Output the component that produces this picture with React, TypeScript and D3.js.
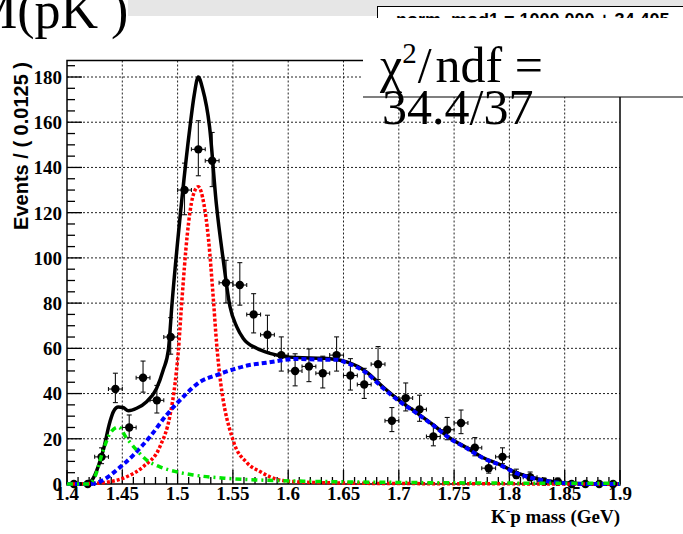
import React from "react";
import * as d3 from "d3";

const W = 683;
const H = 534;

// Bin centers (GeV) and event counts
const MASS = [
  1.40625, 1.41875, 1.43125, 1.44375, 1.45625, 1.46875, 1.48125, 1.49375,
  1.50625, 1.51875, 1.53125, 1.54375, 1.55625, 1.56875, 1.58125, 1.59375,
  1.60625, 1.61875, 1.63125, 1.64375, 1.65625, 1.66875, 1.68125, 1.69375,
  1.70625, 1.71875, 1.73125, 1.74375, 1.75625, 1.76875, 1.78125, 1.79375,
  1.80625, 1.81875, 1.83125, 1.84375, 1.85625, 1.86875, 1.88125, 1.89375,
];
const COUNTS = [
  0, 0, 12, 42, 25, 47, 37, 65, 130, 148, 143, 89, 88, 75, 66, 57, 50, 52, 49,
  57, 48, 44, 53, 28, 38, 33, 21, 24, 27, 16, 7, 12, 4, 3, 1, 1, 0, 0, 0, 0,
];
const BIN_HALF = 0.00625;

// Fit curves
const TOTAL_X = [
  1.4, 1.418, 1.4215, 1.4328, 1.4389, 1.442, 1.4464, 1.4505, 1.4555, 1.463,
  1.472, 1.481, 1.487, 1.4916, 1.495, 1.5038, 1.5112, 1.515, 1.5187, 1.5225,
  1.5289, 1.535, 1.5413, 1.5474, 1.5534, 1.5594, 1.5715, 1.5835, 1.6077,
  1.6318, 1.6528, 1.671, 1.686, 1.701, 1.716, 1.731, 1.746, 1.7614, 1.7764,
  1.7915, 1.8066, 1.8216, 1.8367, 1.852, 1.87, 1.9,
];
const TOTAL_Y = [
  0, 0, 1, 15, 27.6, 32, 34, 33.8, 32.4, 33.5, 36.4, 42.3, 50.4, 59, 80,
  125.6, 158, 172, 180, 175, 158, 124, 99, 78.4, 69.6, 64.4, 60, 57.8, 55.9,
  55.6, 54, 49.5, 42.8, 36.8, 31.6, 26.2, 20.4, 16, 11.6, 8.6, 4.9, 2.7, 1.2,
  0.4, 0.1, 0,
];

const SIG_X = [
  1.4, 1.425, 1.439, 1.454, 1.469, 1.484, 1.493, 1.4977, 1.5007, 1.5037,
  1.5087, 1.5137, 1.5187, 1.5237, 1.528, 1.5323, 1.5353, 1.5504, 1.5625,
  1.5745, 1.5835, 1.5953, 1.62, 1.7, 1.9,
];
const SIG_Y = [
  0, 0.3, 1, 3.2, 7.7, 16.5, 30, 44.5, 59, 80, 110, 127, 131.5, 124, 108, 82,
  62, 19, 9.5, 5.5, 3.2, 1.5, 0.7, 0.2, 0,
];

const BKG_X = [
  1.4, 1.42, 1.4328, 1.445, 1.46, 1.475, 1.49, 1.5052, 1.5203, 1.5353, 1.5504,
  1.564, 1.58, 1.6077, 1.6318, 1.6438, 1.6529, 1.671, 1.686, 1.701, 1.716,
  1.731, 1.746, 1.7614, 1.7764, 1.7915, 1.8066, 1.8216, 1.8367, 1.852, 1.87,
  1.9,
];
const BKG_Y = [
  0, 0, 1.8, 6.2, 12.8, 20.9, 30.5, 38.6, 45.2, 48.2, 50.7, 52.5, 53.6, 55.3,
  55, 55, 53.6, 49, 42.3, 36.4, 31.3, 26, 20.2, 15.8, 11.4, 8.4, 4.7, 2.5, 1,
  0.3, 0, 0,
];

const THR_X = [
  1.4, 1.42, 1.425, 1.4328, 1.4389, 1.4464, 1.454, 1.463, 1.472, 1.484, 1.499,
  1.514, 1.544, 1.5715, 1.62, 1.7, 1.8, 1.9,
];
const THR_Y = [
  0, 0, 3, 15, 22.4, 25.2, 20.2, 15, 10.6, 7.6, 5.4, 4, 2.5, 1.8, 1.2, 0.7,
  0.4, 0.3,
];

const X_TICKS = [1.4, 1.45, 1.5, 1.55, 1.6, 1.65, 1.7, 1.75, 1.8, 1.85, 1.9];
const X_TICK_LABELS = ["1.4", "1.45", "1.5", "1.55", "1.6", "1.65", "1.7", "1.75", "1.8", "1.85", "1.9"];
const Y_TICKS = [0, 20, 40, 60, 80, 100, 120, 140, 160, 180];
const Y_MAX = 187.3;

export default function App() {
  const L = 67, R = 620, B = 484, T = 60.5;
  const x = d3.scaleLinear().domain([1.4, 1.9]).range([L, R]);
  const y = d3.scaleLinear().domain([0, Y_MAX]).range([B, T]);

  const xMinor = d3.range(0, 51).filter((i) => i % 5 !== 0).map((i) => 1.4 + i * 0.01);
  const yMinor = d3.range(0, 38).filter((i) => i % 4 !== 0).map((i) => i * 5);

  const mk = (xs: number[], ys: number[]) =>
    d3
      .line<number>()
      .x((_, i) => x(xs[i]))
      .y((_, i) => y(ys[i]))
      .curve(d3.curveMonotoneX)(xs) || "";

  const serif = "'Liberation Serif', 'Times New Roman', serif";
  const sans = "'Liberation Sans', Arial, sans-serif";

  return (
    <svg
      width={W}
      height={H}
      style={{ position: "absolute", left: 0, top: 0, background: "#fff" }}
    >
      {/* title, cut off at top-left */}
      <text x={-29} y={28} fontFamily={serif} fontSize={52} fill="#000">
        M(pK )
      </text>
      {/* gray header band */}
      <rect x={128} y={0} width={W - 128} height={16} fill="#e6e6e6" />
      {/* stats box (mostly hidden) */}
      <rect x={377.5} y={6.5} width={330} height={40} fill="#fff" stroke="#000" strokeWidth={1} />
      <text x={396} y={26} fontFamily={sans} fontWeight="bold" fontSize={18} fill="#000">
        norm_mod1 = 1000.000 ± 34.405
      </text>

      {/* gridlines */}
      {X_TICKS.slice(1, -1).map((t) => (
        <line key={"gx" + t} x1={x(t)} x2={x(t)} y1={T} y2={B} stroke="#222" strokeWidth={1} strokeDasharray="2 2" />
      ))}
      {Y_TICKS.slice(1).map((t) => (
        <line key={"gy" + t} x1={L} x2={R} y1={y(t)} y2={y(t)} stroke="#222" strokeWidth={1} strokeDasharray="2 2" />
      ))}

      {/* frame */}
      <rect x={L} y={T} width={R - L} height={B - T} fill="none" stroke="#000" strokeWidth={1.5} />

      {/* x ticks */}
      {X_TICKS.map((t) => (
        <line key={"xt" + t} x1={x(t)} x2={x(t)} y1={B} y2={B - 14} stroke="#000" strokeWidth={1.3} />
      ))}
      {xMinor.map((t) => (
        <line key={"xm" + t} x1={x(t)} x2={x(t)} y1={B} y2={B - 7} stroke="#000" strokeWidth={1.3} />
      ))}
      {/* y ticks */}
      {Y_TICKS.map((t) => (
        <line key={"yt" + t} x1={L} x2={L + 15} y1={y(t)} y2={y(t)} stroke="#000" strokeWidth={1.3} />
      ))}
      {yMinor.map((t) => (
        <line key={"ym" + t} x1={L} x2={L + 8} y1={y(t)} y2={y(t)} stroke="#000" strokeWidth={1.3} />
      ))}

      {/* tick labels */}
      {X_TICKS.map((t, i) => (
        <text key={"xl" + t} x={x(t)} y={500} textAnchor="middle" fontFamily={serif} fontWeight="bold" fontSize={19} fill="#000">
          {X_TICK_LABELS[i]}
        </text>
      ))}
      {Y_TICKS.map((t) => (
        <text key={"yl" + t} x={62} y={y(t)} dy="0.36em" textAnchor="end" fontFamily={serif} fontWeight="bold" fontSize={19} fill="#000">
          {t}
        </text>
      ))}

      {/* axis titles */}
      <text
        transform={`translate(28, 62) rotate(-90)`}
        textAnchor="end"
        fontFamily={sans}
        fontWeight="bold"
        fontSize={20}
        fill="#000"
      >
        Events / ( 0.0125 )
      </text>
      <text x={620} y={523} textAnchor="end" fontFamily={serif} fontWeight="bold" fontSize={19} fill="#000">
        K<tspan dy={-8} fontSize={13}>-</tspan>
        <tspan dy={8}>p mass (GeV)</tspan>
      </text>

      {/* data points */}
      {MASS.map((m, i) => {
        const n = COUNTS[i];
        const s = Math.sqrt(n + 0.25);
        const up = n + s + 0.5;
        const lo = Math.max(0, n - s + 0.5);
        const cx = x(m);
        const cy = y(n);
        return (
          <g key={"p" + i} stroke="#111" strokeWidth={1.1}>
            <line x1={cx} x2={cx} y1={y(up)} y2={y(lo)} />
            <line x1={cx - 2.5} x2={cx + 2.5} y1={y(up)} y2={y(up)} />
            <line x1={cx - 2.5} x2={cx + 2.5} y1={y(lo)} y2={y(lo)} />
            <line x1={x(m - BIN_HALF)} x2={x(m + BIN_HALF)} y1={cy} y2={cy} />
            <line x1={x(m - BIN_HALF)} x2={x(m - BIN_HALF)} y1={cy - 2} y2={cy + 2} />
            <line x1={x(m + BIN_HALF)} x2={x(m + BIN_HALF)} y1={cy - 2} y2={cy + 2} />
            <circle cx={cx} cy={cy} r={4.2} fill="#000" stroke="none" />
          </g>
        );
      })}

      {/* curves */}
      <path d={mk(TOTAL_X, TOTAL_Y)} fill="none" stroke="#000" strokeWidth={3.5} />
      <path d={mk(SIG_X, SIG_Y)} fill="none" stroke="#ff0000" strokeWidth={3.5} strokeDasharray="3 2" />
      <path d={mk(BKG_X, BKG_Y)} fill="none" stroke="#0000ff" strokeWidth={4} strokeDasharray="5 3" />
      <path d={mk(THR_X, THR_Y)} fill="none" stroke="#00e600" strokeWidth={3.5} strokeDasharray="6 4 2 4" />

      {/* chi2 box */}
      <rect x={363} y={18} width={W - 363 + 10} height={79} fill="#fff" stroke="none" />
      <line x1={363} x2={W} y1={97} y2={97} stroke="#000" strokeWidth={1.2} />
      <text x={380} y={82} fontFamily={serif} fontSize={50} fill="#000">
        χ<tspan dy={-19} fontSize={29}>2</tspan>
        <tspan dy={19} dx={1}>/</tspan>
        <tspan dx={4}>ndf =</tspan>
      </text>
      <text x={382} y={124} fontFamily={serif} fontSize={50} fill="#000">
        34.4/37
      </text>
    </svg>
  );
}
